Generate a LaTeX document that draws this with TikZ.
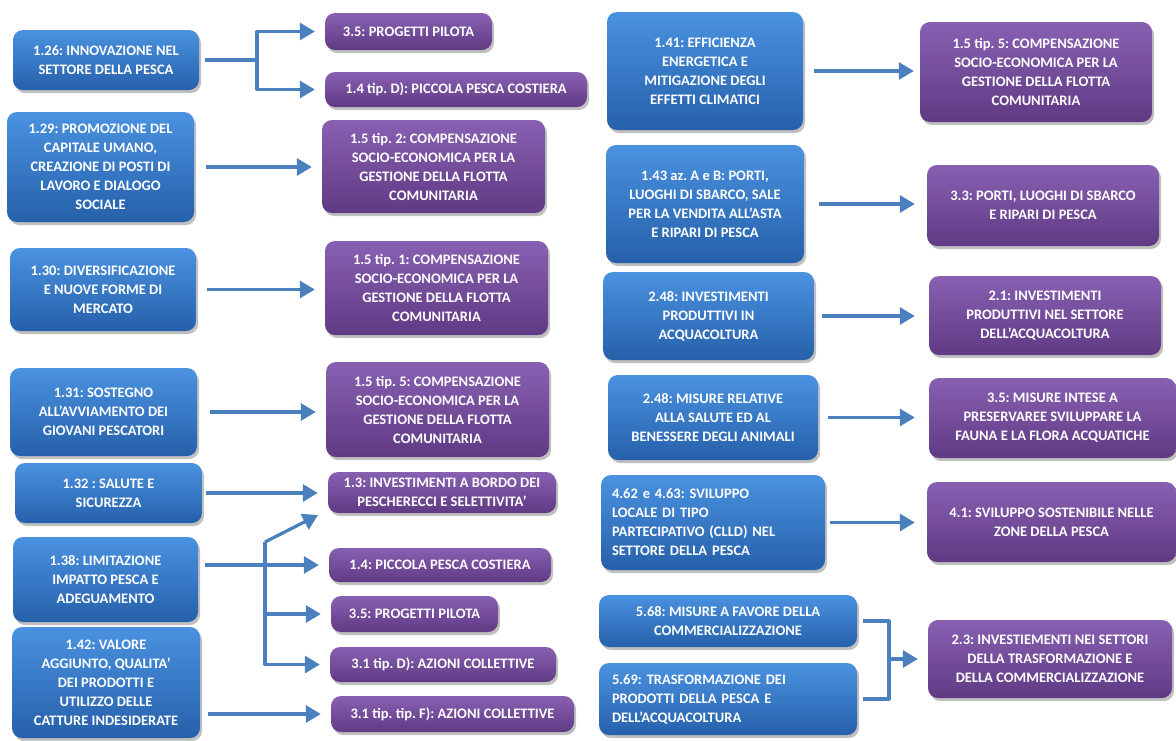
\documentclass[tikz,border=0pt]{standalone}
\usepackage{fontspec}
\setmainfont{Carlito}
\usepackage{xcolor}
\usepackage{tikz}
\usetikzlibrary{arrows.meta,shadows}
\frenchspacing
\definecolor{bluTop}{RGB}{74,146,224}
\definecolor{bluBot}{RGB}{38,96,170}
\definecolor{vioTop}{RGB}{136,96,178}
\definecolor{vioBot}{RGB}{96,58,132}
\definecolor{arrBlu}{RGB}{74,128,190}
\tikzset{
  misbox/.style={rounded corners=10pt,text=white,align=center,inner sep=2pt,
    font=\bfseries\fontsize{14.5}{19}\selectfont,
    drop shadow={shadow xshift=2pt,shadow yshift=-3pt,opacity=0.35,fill=black!70}},
  blubox/.style={misbox,top color=bluTop,bottom color=bluBot},
  viobox/.style={misbox,top color=vioTop,bottom color=vioBot},
  lin/.style={draw=arrBlu,line width=3.2pt},
  arr/.style={lin,-{Triangle[length=15pt,width=17pt]},shorten >=10pt}
}

\begin{document}
\begin{tikzpicture}[x=1pt,y=-1pt,line join=round]
\useasboundingbox (0,0) rectangle (1176,740);
\fill[white] (0,0) rectangle (1176,740);
% misure di partenza
\node[blubox,minimum width=186,minimum height=60] (m126) at (106,60) {1.26: INNOVAZIONE NEL\\SETTORE DELLA PESCA};
\node[blubox,minimum width=187,minimum height=110] (m129) at (100.5,167) {1.29: PROMOZIONE DEL\\CAPITALE UMANO,\\CREAZIONE DI POSTI DI\\LAVORO E DIALOGO\\SOCIALE};
\node[blubox,minimum width=186,minimum height=83] (m130) at (103,289.5) {1.30: DIVERSIFICAZIONE\\E NUOVE FORME DI\\MERCATO};
\node[blubox,minimum width=187,minimum height=88] (m131) at (103.5,412) {1.31: SOSTEGNO\\ALL’AVVIAMENTO DEI\\GIOVANI PESCATORI};
\node[blubox,minimum width=187,minimum height=60] (m132) at (108.5,493) {1.32 : SALUTE E\\SICUREZZA};
\node[blubox,minimum width=185,minimum height=85] (m138) at (105.5,579.5) {1.38: LIMITAZIONE\\IMPATTO PESCA E\\ADEGUAMENTO};
\node[blubox,minimum width=188,minimum height=111] (m142) at (106,682.5) {1.42: VALORE\\AGGIUNTO, QUALITA’\\DEI PRODOTTI E\\UTILIZZO DELLE\\CATTURE INDESIDERATE};
\node[blubox,minimum width=196,minimum height=118] (m141) at (705,71) {1.41: EFFICIENZA\\ENERGETICA E\\MITIGAZIONE DEGLI\\EFFETTI CLIMATICI};
\node[blubox,minimum width=198,minimum height=118] (m143) at (705,204) {1.43 az. A e B: PORTI,\\LUOGHI DI SBARCO, SALE\\PER LA VENDITA ALL’ASTA\\E RIPARI DI PESCA};
\node[blubox,minimum width=211,minimum height=88] (m248a) at (708.5,316) {2.48: INVESTIMENTI\\PRODUTTIVI IN\\ACQUACOLTURA};
\node[blubox,minimum width=210,minimum height=85] (m248b) at (713,417.5) {2.48: MISURE RELATIVE\\ALLA SALUTE ED AL\\BENESSERE DEGLI ANIMALI};
\node[blubox,align=left,inner xsep=11pt,text width=202pt,minimum height=95] (m462) at (713,522.5) {4.62 e 4.63: SVILUPPO\\LOCALE DI TIPO\\PARTECIPATIVO (CLLD) NEL\\SETTORE DELLA PESCA};
\node[blubox,minimum width=258,minimum height=52] (m568) at (728,621) {5.68: MISURE A FAVORE DELLA\\COMMERCIALIZZAZIONE};
\node[blubox,align=left,inner xsep=13pt,text width=232pt,minimum height=72] (m569) at (728,699) {5.69: TRASFORMAZIONE DEI\\PRODOTTI DELLA PESCA E\\DELL’ACQUACOLTURA};
% misure di arrivo
\node[viobox,minimum width=167,minimum height=37] (p35a) at (408.5,31.5) {3.5: PROGETTI PILOTA};
\node[viobox,minimum width=262,minimum height=35] (p14d) at (456,89.5) {1.4 tip. D): PICCOLA PESCA COSTIERA};
\node[viobox,minimum width=223,minimum height=93] (p15b) at (433.5,166.5) {1.5 tip. 2: COMPENSAZIONE\\SOCIO-ECONOMICA PER LA\\GESTIONE DELLA FLOTTA\\COMUNITARIA};
\node[viobox,minimum width=223,minimum height=94] (p15a) at (436.5,288) {1.5 tip. 1: COMPENSAZIONE\\SOCIO-ECONOMICA PER LA\\GESTIONE DELLA FLOTTA\\COMUNITARIA};
\node[viobox,minimum width=223,minimum height=95] (p15c) at (437.5,409.5) {1.5 tip. 5: COMPENSAZIONE\\SOCIO-ECONOMICA PER LA\\GESTIONE DELLA FLOTTA\\COMUNITARIA};
\node[viobox,minimum width=228,minimum height=41] (p13) at (442,492.5) {1.3: INVESTIMENTI A BORDO DEI\\PESCHERECCI E SELETTIVITA’};
\node[viobox,minimum width=222,minimum height=34] (p14) at (440,565) {1.4: PICCOLA PESCA COSTIERA};
\node[viobox,minimum width=167,minimum height=36] (p35b) at (414.5,614) {3.5: PROGETTI PILOTA};
\node[viobox,minimum width=226,minimum height=35] (p31d) at (443,664.5) {3.1 tip. D): AZIONI COLLETTIVE};
\node[viobox,minimum width=243,minimum height=36] (p31f) at (452.5,714) {3.1 tip. tip. F): AZIONI COLLETTIVE};
\node[viobox,minimum width=232,minimum height=100] (q15) at (1036,72) {1.5 tip. 5: COMPENSAZIONE\\SOCIO-ECONOMICA PER LA\\GESTIONE DELLA FLOTTA\\COMUNITARIA};
\node[viobox,minimum width=232,minimum height=81] (q33) at (1043,205.5) {3.3: PORTI, LUOGHI DI SBARCO\\E RIPARI DI PESCA};
\node[viobox,minimum width=232,minimum height=79] (q21) at (1045,315.5) {2.1: INVESTIMENTI\\PRODUTTIVI NEL SETTORE\\DELL’ACQUACOLTURA};
\node[viobox,minimum width=247,minimum height=80] (q35) at (1052.5,418) {3.5: MISURE INTESE A\\PRESERVAREE SVILUPPARE LA\\FAUNA E LA FLORA ACQUATICHE};
\node[viobox,minimum width=249,minimum height=80] (q41) at (1051.5,522) {4.1: SVILUPPO SOSTENIBILE NELLE\\ZONE DELLA PESCA};
\node[viobox,minimum width=244,minimum height=78] (q23) at (1050,659) {2.3: INVESTIEMENTI NEI SETTORI\\DELLA TRASFORMAZIONE E\\DELLA COMMERCIALIZZAZIONE};
% collegamenti
\coordinate (f126) at (257,60);
\coordinate (f138) at (265,542);
\coordinate (t13) at (318,515);
\coordinate (f568) at (889,659);
\draw[arr,shorten <=6pt] (m126.east) -- (f126) |- (p35a.west);
\draw[arr] (f126) |- (p14d.west);
\draw[arr,shorten <=12pt] (m129.east) -- (m129.east -| p15b.west);
\draw[arr,shorten <=11pt] (m130.east) -- (m130.east -| p15a.west);
\draw[arr,shorten <=13pt] (m131.east) -- (m131.east -| p15c.west);
\draw[arr,shorten <=4pt] (m132.east) -- (m132.east -| p13.west);
\draw[arr,shorten <=7pt] (m138.east |- p14.west) -- (p14.west);
\draw[arr,shorten >=0pt] (f138) -- (t13);
\draw[arr] (f138) |- (p31d.west);
\draw[arr] (f138 |- p35b.west) -- (p35b.west);
\draw[arr,shorten <=8pt] (m142.east |- p31f.west) -- (p31f.west);
\draw[arr,shorten <=11pt,shorten >=6pt] (m141.east) -- (m141.east -| q15.west);
\draw[arr,shorten <=15pt,shorten >=12pt] (m143.east) -- (m143.east -| q33.west);
\draw[arr,shorten <=8pt,shorten >=14pt] (m248a.east) -- (m248a.east -| q21.west);
\draw[arr,shorten <=10pt,shorten >=14pt] (m248b.east) -- (m248b.east -| q35.west);
\draw[arr,shorten <=5pt,shorten >=12pt] (m462.east) -- (m462.east -| q41.west);
\draw[lin,shorten <=6pt,shorten >=6pt] (m568.east) -| (f568) |- (m569.east);
\draw[arr] (f568) -- (f568 -| q23.west);
\end{tikzpicture}
\end{document}
